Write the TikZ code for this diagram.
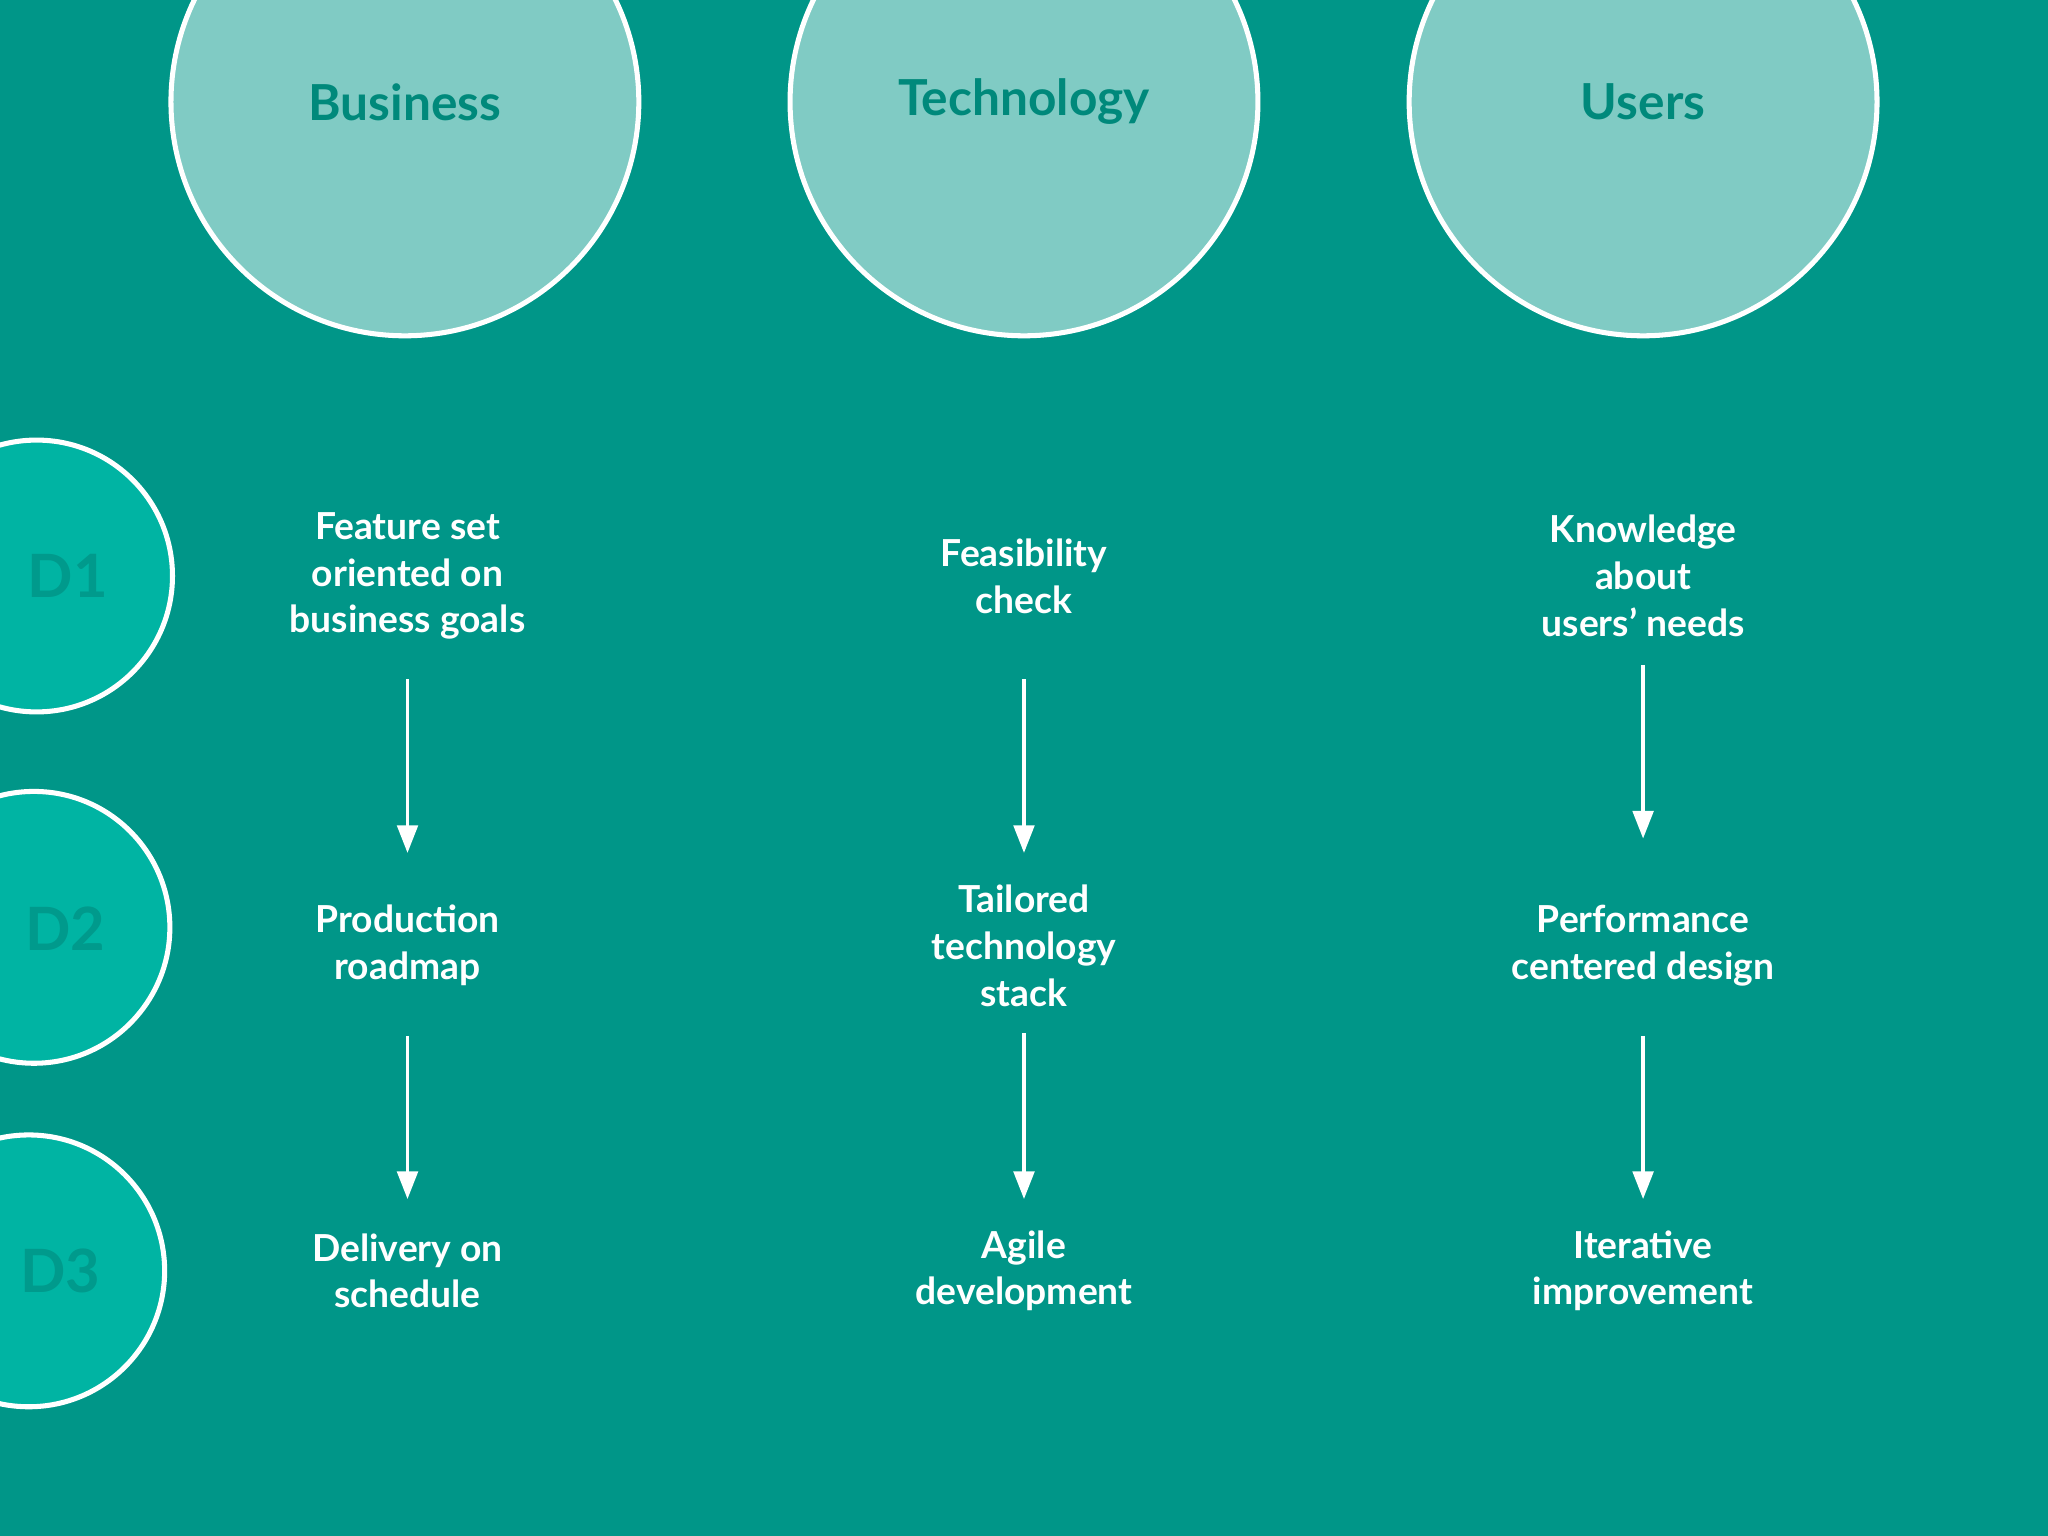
\documentclass[tikz,border=0pt]{standalone}
\usepackage{fontspec}
\setmainfont{Lato}
\usetikzlibrary{arrows.meta}
\definecolor{bg}{HTML}{009688}
\definecolor{topfill}{HTML}{80CBC4}
\definecolor{toptext}{HTML}{00897B}
\definecolor{dfill}{HTML}{00B4A3}
\definecolor{dtext}{HTML}{009A8C}
\tikzset{
  topc/.style={circle,draw=white,line width=1.1pt,fill=topfill,minimum size=3.58cm,inner sep=0pt},
  toplbl/.style={text=toptext,font=\bfseries\fontsize{10.8}{13}\selectfont},
  dc/.style={circle,draw=white,line width=1.1pt,fill=dfill,minimum size=2.08cm,inner sep=0pt},
  dlbl/.style={text=dtext,font=\bfseries\fontsize{13}{15}\selectfont},
  txt/.style={text=white,align=center,font=\bfseries\fontsize{8.1}{10.2}\selectfont},
  arr/.style={draw=white,line width=0.7pt,-{Triangle[width=4.5pt,length=6pt]}}
}
\begin{document}
\begin{tikzpicture}[x=0.01cm,y=-0.01cm]
\fill[bg] (0,0) rectangle (1568,1176);
\useasboundingbox (0,0) rectangle (1568,1176);
\node[topc] (cb) at (310,78) {};
\node[topc] (ct) at (784,78) {};
\node[topc] (cu) at (1258,78) {};
\node[toplbl] (lb) at (310,78) {Business};
\node[toplbl] (lt) at (784,78) {Technology};
\node[toplbl] (lu) at (1258,78) {Users};
\node[dc] (d1) at (28,441) {};
\node[dc] (d2) at (26,710) {};
\node[dc] (d3) at (22,973) {};
\node[dlbl] (l1) at (52,441) {D1};
\node[dlbl] (l2) at (50,711) {D2};
\node[dlbl] (l3) at (46,973) {D3};
\node[txt] (b1) at (312,441) {Feature set\\oriented on\\business goals};
\node[txt] (b2) at (312,724) {Production\\roadmap};
\node[txt] (b3) at (312,973) {Delivery on\\schedule};
\node[txt] (t1) at (784,441) {Feasibility\\check};
\node[txt] (t2) at (784,724) {Tailored\\technology\\stack};
\node[txt] (t3) at (784,973) {Agile\\development};
\node[txt] (u1) at (1258,441) {Knowledge\\about\\users’ needs};
\node[txt] (u2) at (1258,724) {Performance\\centered design};
\node[txt] (u3) at (1258,973) {Iterative\\improvement};
\coordinate (ab1) at (312,520); \coordinate (ab2) at (312,653);
\coordinate (ab3) at (312,793); \coordinate (ab4) at (312,918);
\coordinate (at1) at (784,520); \coordinate (at2) at (784,653);
\coordinate (at3) at (784,791); \coordinate (at4) at (784,918);
\coordinate (au1) at (1258,509); \coordinate (au2) at (1258,642);
\coordinate (au3) at (1258,793); \coordinate (au4) at (1258,918);
\draw[arr] (ab1) -- (ab2); \draw[arr] (ab3) -- (ab4);
\draw[arr] (at1) -- (at2); \draw[arr] (at3) -- (at4);
\draw[arr] (au1) -- (au2); \draw[arr] (au3) -- (au4);
\end{tikzpicture}
\end{document}
